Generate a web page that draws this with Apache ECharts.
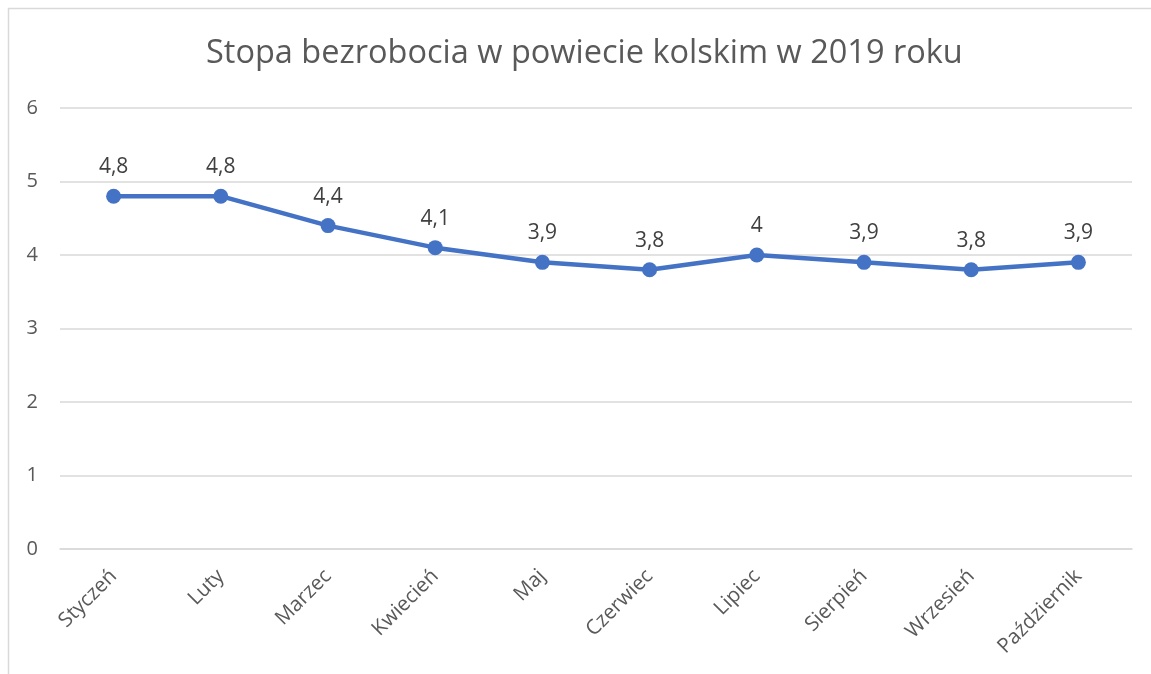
<!DOCTYPE html>
<html><head><meta charset="utf-8">
<script src="https://cdn.jsdelivr.net/npm/echarts@6/dist/echarts.min.js"></script>
<style>html,body{margin:0;padding:0;background:#fff}#c{width:1151px;height:674px}</style>
</head><body><div id="c"></div>
<script>
const categories = ['Styczeń','Luty','Marzec','Kwiecień','Maj','Czerwiec','Lipiec','Sierpień','Wrzesień','Październik'];
const values = [4.8, 4.8, 4.4, 4.1, 3.9, 3.8, 4.0, 3.9, 3.8, 3.9];
const yTicks = [0, 1, 2, 3, 4, 5, 6];
const title = 'Stopa bezrobocia w powiecie kolskim w 2019 roku';
const FONT = 'Open Sans';
const chart = echarts.init(document.getElementById('c'), null, {renderer:'canvas'});
chart.setOption({
  animation: false,
  backgroundColor: '#fff',
  textStyle: {fontFamily: FONT},
  graphic: [{type:'rect', shape:{x:8.5,y:8.5,width:1160,height:700}, style:{fill:'none', stroke:'#d9d9d9', lineWidth:1.5}}],
  title: {text: title, left: 201, top: 32, textStyle:{fontFamily:FONT, fontSize:32.5, fontWeight:'normal', color:'#595959'}},
  grid: {left: 60, right: 19, top: 108, bottom: 125, containLabel: false},
  xAxis: {type:'category', data: categories, boundaryGap: true,
    axisLine:{show:true, lineStyle:{color:'#d9d9d9', width:1.5}}, axisTick:{show:false},
    axisLabel:{rotate:45, color:'#595959', fontSize:20.5, fontFamily:FONT, margin:24, interval:0}},
  yAxis: {type:'value', min: yTicks[0], max: yTicks[yTicks.length-1], interval: 1,
    axisLine:{show:false}, axisTick:{show:false},
    splitLine:{lineStyle:{color:'#d9d9d9', width:1.5}},
    axisLabel:{color:'#595959', fontSize:20, fontFamily:FONT, margin:22}},
  series: [{type:'line', data: values, symbol:'circle', symbolSize:15,
    lineStyle:{color:'#4472C4', width:4.5}, itemStyle:{color:'#4472C4'},
    label:{show:true, position:'top', distance:11, color:'#404040', fontSize:21, fontFamily:FONT,
      formatter: p => String(p.value).replace('.', ',')}}]
});
</script></body></html>
